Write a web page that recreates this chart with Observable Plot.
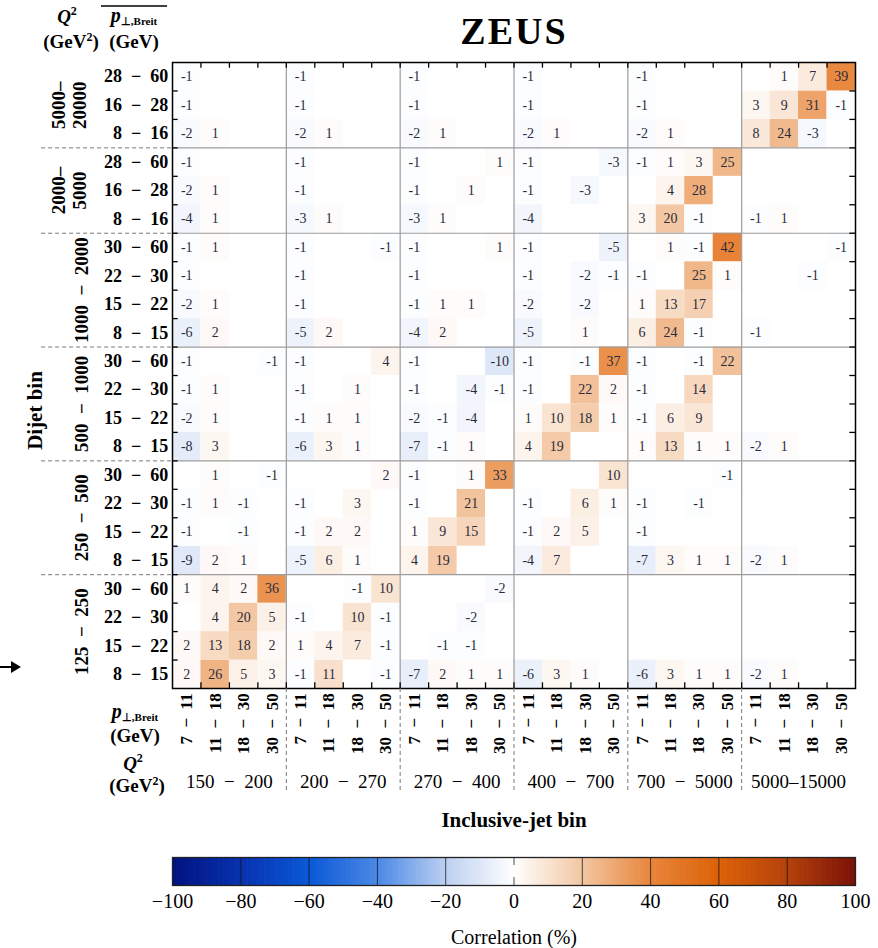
<!DOCTYPE html>
<html><head><meta charset="utf-8">
<script src="https://cdn.jsdelivr.net/npm/d3@7"></script>
<script src="https://cdn.jsdelivr.net/npm/@observablehq/plot@0.6"></script>
<style>
body{margin:0;background:#fff;}
#chart svg{display:block;}
</style>
</head><body><div id="chart"></div>
<script>
// ---------- data ----------
const incQ2 = ["150 − 200","200 − 270","270 − 400","400 − 700","700 − 5000","5000–15000"];
const incPt = ["7 − 11","11 − 18","18 − 30","30 − 50"];
const dijetQ2 = ["125 − 250","250 − 500","500 − 1000","1000 − 2000","2000–\n5000","5000–\n20000"];
const dijetPtLow = ["8 − 15","15 − 22","22 − 30","30 − 60"];
const dijetPtHigh = ["8 − 16","16 − 28","28 − 60"];

// rows listed bottom to top (pT low -> high); 24 inclusive-jet columns; 0 = empty cell
const corr125_250 = [
  [2,26,5,3, -1,11,0,-1, -7,2,1,1, -6,3,1,0, -6,3,1,1, -2,1,0,0],
  [2,13,18,2, 1,4,7,-1, 0,-1,-1,0, 0,0,0,0, 0,0,0,0, 0,0,0,0],
  [0,4,20,5, -1,0,10,-1, 0,0,-2,0, 0,0,0,0, 0,0,0,0, 0,0,0,0],
  [1,4,2,36, 0,0,-1,10, 0,0,0,-2, 0,0,0,0, 0,0,0,0, 0,0,0,0]
];
const corr250_500 = [
  [-9,2,1,0, -5,6,1,0, 4,19,0,0, -4,7,0,0, -7,3,1,1, -2,1,0,0],
  [-1,0,-1,0, -1,2,2,0, 1,9,15,0, -1,2,5,0, -1,0,0,0, 0,0,0,0],
  [-1,1,-1,0, -1,0,3,0, -1,0,21,0, -1,0,6,1, -1,0,-1,0, 0,0,0,0],
  [0,1,0,-1, 0,0,0,2, -1,0,1,33, 0,0,0,10, 0,0,0,-1, 0,0,0,0]
];
const corr500_1000 = [
  [-8,3,0,0, -6,3,1,0, -7,-1,1,0, 4,19,0,0, 1,13,1,1, -2,1,0,0],
  [-2,1,0,0, -1,1,1,0, -2,-1,-4,0, 1,10,18,1, -1,6,9,0, 0,0,0,0],
  [-1,1,0,0, -1,0,1,0, -1,0,-4,-1, -1,0,22,2, -1,0,14,0, 0,0,0,0],
  [-1,0,0,-1, -1,0,0,4, -1,0,0,-10, -1,0,-1,37, -1,0,-1,22, 0,0,0,0]
];
const corr1000_2000 = [
  [-6,2,0,0, -5,2,0,0, -4,2,0,0, -5,0,1,0, 6,24,-1,0, -1,0,0,0],
  [-2,1,0,0, -1,0,0,0, -1,1,1,0, -2,0,-2,0, 1,13,17,0, 0,0,0,0],
  [-1,0,0,0, -1,0,0,0, -1,0,0,0, -1,0,-2,-1, -1,0,25,1, 0,0,-1,0],
  [-1,1,0,0, -1,0,0,-1, -1,0,0,1, -1,0,0,-5, 0,1,-1,42, 0,0,0,-1]
];
const corr2000_5000 = [
  [-4,1,0,0, -3,1,0,0, -3,1,0,0, -4,0,0,0, 3,20,-1,0, -1,1,0,0],
  [-2,1,0,0, -1,0,0,0, -1,0,1,0, -1,0,-3,0, 0,4,28,0, 0,0,0,0],
  [-1,0,0,0, -1,0,0,0, -1,0,0,1, -1,0,0,-3, -1,1,3,25, 0,0,0,0]
];
const corr5000_20000 = [
  [-2,1,0,0, -2,1,0,0, -2,1,0,0, -2,1,0,0, -2,1,0,0, 8,24,-3,0],
  [-1,0,0,0, -1,0,0,0, -1,0,0,0, -1,0,0,0, -1,0,0,0, 3,9,31,-1],
  [-1,0,0,0, -1,0,0,0, -1,0,0,0, -1,0,0,0, -1,0,0,0, 0,1,7,39]
];

const colorTicks = [-100,-80,-60,-40,-20,0,20,40,60,80,100];
const colorStops = ["#00127f","#0832ae","#0a58d6","#4a88e6","#bccff0","#ffffff","#f3c7a3","#e8863c","#dc6208","#b5420a","#7a1208"];

// ---------- build table ----------
const groups = [corr125_250, corr250_500, corr500_1000, corr1000_2000, corr2000_5000, corr5000_20000];
const rowLabels = [];
const groupInfo = [];
const cells = [];
let r = 0;
groups.forEach((g, gi) => {
  const labels = g.length === 4 ? dijetPtLow : dijetPtHigh;
  groupInfo.push({label: dijetQ2[gi], start: r, end: r + g.length});
  g.forEach((row, k) => {
    rowLabels.push({r, label: labels[k]});
    row.forEach((v, c) => { if (v !== 0) cells.push({r, c, v}); });
    r++;
  });
});
const nRows = r;
const nCols = incQ2.length * incPt.length;
const colLabels = d3.range(nCols).map(c => ({c, label: incPt[c % incPt.length]}));
const blockEdgesX = d3.range(1, incQ2.length).map(i => i * incPt.length);
const groupEdgesY = groupInfo.slice(1).map(g => g.start);
const sp = s => s.replace(/ − /g, "\u2002−\u2002");

const W = 878, H1 = 840, H2 = 108;
const mL = 172, mR = 23, mT = 62, mB = 152;
const font = "'Liberation Serif', 'Times New Roman', serif";
const colorScale = {type: "linear", domain: colorTicks, range: colorStops, interpolate: "rgb"};

const main = Plot.plot({
  width: W, height: H1,
  marginLeft: mL, marginRight: mR, marginTop: mT, marginBottom: mB,
  style: {fontFamily: font, background: "white", overflow: "visible"},
  x: {domain: [0, nCols], axis: null},
  y: {domain: [0, nRows], axis: null},
  color: colorScale,
  marks: [
    Plot.rect(cells, {x1: d => d.c, x2: d => d.c + 1, y1: d => d.r, y2: d => d.r + 1, fill: d => d.v}),
    Plot.text(cells, {x: d => d.c + 0.5, y: d => d.r + 0.5, text: d => String(d.v), fontSize: 14, fill: "#2b2b3b"}),
    Plot.ruleX(blockEdgesX, {x: d => d, y1: 0, y2: nRows, stroke: "#9d9d9d", strokeWidth: 1.2}),
    Plot.ruleY(groupEdgesY, {y: d => d, x1: 0, x2: nCols, stroke: "#9d9d9d", strokeWidth: 1.2}),
    // inward ticks
    Plot.ruleX(d3.range(1, nCols), {x: d => d, y1: nRows, y2: nRows - 0.2, stroke: "black", strokeWidth: 1.3}),
    Plot.ruleX(d3.range(1, nCols), {x: d => d, y1: 0, y2: 0.2, stroke: "black", strokeWidth: 1.3}),
    Plot.ruleY(d3.range(1, nRows), {y: d => d, x1: 0, x2: 0.2, stroke: "black", strokeWidth: 1.3}),
    Plot.ruleY(d3.range(1, nRows), {y: d => d, x1: nCols, x2: nCols - 0.2, stroke: "black", strokeWidth: 1.3}),
    Plot.frame({stroke: "black", strokeWidth: 1.5}),
    // dashed separators outside
    Plot.ruleY(groupEdgesY, {y: d => d, x1: -4.6, x2: 0, stroke: "#777", strokeDasharray: "4,3"}),
    Plot.ruleX(blockEdgesX, {x: d => d, y1: 0, y2: -3.6, stroke: "#777", strokeDasharray: "4,3"}),
    // row labels
    Plot.text(rowLabels, {x: -0.15, y: d => d.r + 0.5, text: d => sp(d.label), textAnchor: "end", fontSize: 18, fontWeight: "bold", fill: "black"}),
    Plot.text(groupInfo, {x: d => d.label.includes("\n") ? -3.65 : -3.22, y: d => (d.start + d.end) / 2, text: d => sp(d.label), rotate: -90, fontSize: 19, fontWeight: "bold", lineHeight: 1.1, fill: "black"}),
    // column labels
    Plot.text(colLabels, {x: d => d.c + 0.5, y: -0.17, text: d => sp(d.label), rotate: -90, textAnchor: "end", fontSize: 17, fontWeight: "bold", fill: "black"}),
    Plot.text(incQ2, {x: (d, i) => i * incPt.length + incPt.length / 2, y: -3.3, text: d => sp(d), fontSize: 19, fill: "black"}),
    // titles
    Plot.text(["ZEUS"], {frameAnchor: "top", lineAnchor: "middle", dy: -31, fontSize: 38, fontWeight: "bold", fill: "black"}),
    Plot.text(["Dijet bin"], {x: -4.81, y: 9.77, rotate: -90, fontSize: 21, fontWeight: "bold", fill: "black"}),
    Plot.text(["Inclusive-jet bin"], {frameAnchor: "bottom", lineAnchor: "middle", dy: 132, fontSize: 21, fontWeight: "bold", fill: "black"})
  ]
});
main.querySelectorAll("text").forEach(t => { if (t.textContent === "ZEUS") t.setAttribute("letter-spacing", "2"); });

// rich-text header labels and arrow
const s = d3.select(main).append("g").attr("font-family", font).attr("fill", "black");
function qLabel(x, y) {
  const t = s.append("text").attr("x", x).attr("y", y).attr("text-anchor", "middle").attr("font-size", 19).attr("font-weight", "bold");
  t.append("tspan").attr("font-style", "italic").text("Q");
  t.append("tspan").attr("dy", -8).attr("font-size", 12).text("2");
}
function pLabel(x, y, over) {
  const t = s.append("text").attr("x", x).attr("y", y).attr("text-anchor", "middle").attr("font-size", 20).attr("font-weight", "bold");
  t.append("tspan").attr("font-style", "italic").text("p");
  t.append("tspan").attr("dy", 3).attr("font-size", 11).text("⊥,Breit");
  if (over) s.append("line").attr("x1", x - 33).attr("x2", x + 33).attr("y1", y - 16).attr("y2", y - 16).attr("stroke", "black").attr("stroke-width", 1.3);
}
function unitLabel(x, y, sq) {
  const t = s.append("text").attr("x", x).attr("y", y).attr("text-anchor", "middle").attr("font-size", 19).attr("font-weight", "bold");
  if (sq) { t.append("tspan").text("(GeV"); t.append("tspan").attr("dy", -7).attr("font-size", 12).text("2"); t.append("tspan").attr("dy", 7).text(")"); }
  else t.text("(GeV)");
}
qLabel(67, 23); unitLabel(71, 48, true);
pLabel(134, 22, true); unitLabel(134, 48, false);
pLabel(135, 718, false); unitLabel(135, 742, false);
qLabel(133, 770); unitLabel(137, 792, true);
s.append("line").attr("x1", 0).attr("x2", 13).attr("y1", 667).attr("y2", 667).attr("stroke", "black").attr("stroke-width", 2);
s.append("path").attr("d", "M11,661 L21,667 L11,673 Z").attr("fill", "black");

// ---------- colour bar ----------
const bar = Plot.plot({
  width: W, height: H2,
  marginLeft: mL, marginRight: mR, marginTop: 17, marginBottom: 63,
  style: {fontFamily: font, background: "white", overflow: "visible"},
  x: {domain: [colorTicks[0], colorTicks[colorTicks.length - 1]], axis: null},
  y: {domain: [0, 1], axis: null},
  color: colorScale,
  marks: [
    Plot.rect(d3.range(-100, 100, 0.5), {x1: d => d, x2: d => d + 0.7, y1: 0, y2: 1, fill: d => d + 0.25}),
    Plot.ruleX(colorTicks.slice(1, -1).filter(d => d !== 0), {x: d => d, y1: 0, y2: 1, stroke: "#111", strokeOpacity: 0.75}),
    Plot.ruleX([0], {x: d => d, y1: 0, y2: 1, stroke: "#111", strokeOpacity: 0.75, strokeDasharray: "8,12"}),
    Plot.frame({stroke: "#222", strokeWidth: 1.3}),
    Plot.text(colorTicks, {x: d => d, y: 0, dy: 16, text: d => d < 0 ? "−" + (-d) : String(d), fontSize: 20, fill: "black"}),
    Plot.text(["Correlation (%)"], {frameAnchor: "bottom", lineAnchor: "middle", dy: 52, fontSize: 20, fill: "black"})
  ]
});

const chart = document.getElementById("chart");
chart.appendChild(main);
chart.appendChild(bar);
</script>
</body></html>
